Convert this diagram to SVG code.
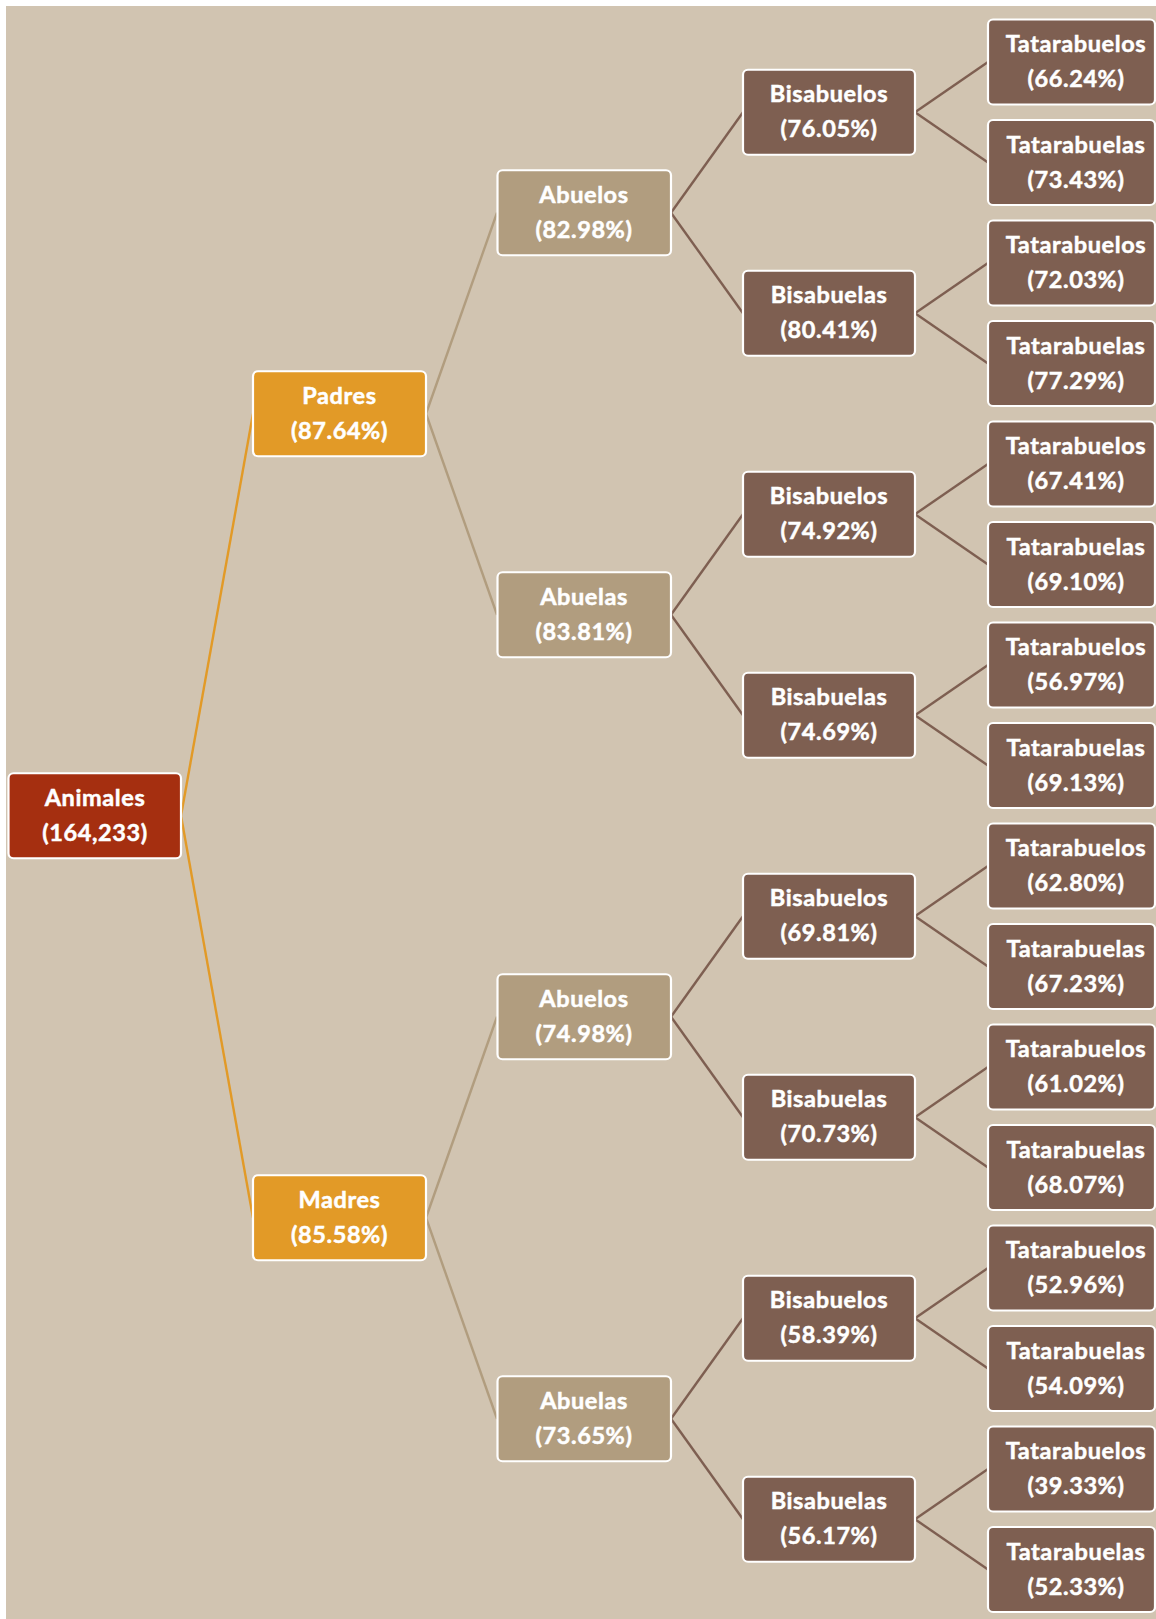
<svg xmlns="http://www.w3.org/2000/svg" width="1156" height="1619" viewBox="0 0 1156 1619">
<style>
.n rect{stroke:#fff;stroke-width:2.2}
.n text{font-family:"Lato","Open Sans","Liberation Sans",sans-serif;font-weight:700;font-size:23.5px;fill:#fff;stroke:#fff;stroke-width:0.5;letter-spacing:0.6px;text-anchor:middle}
.r{fill:#A52F10}.o{fill:#E29A27}.t{fill:#B19D7F}.b{fill:#7E5F51}
.c line{stroke-width:2.4;fill:none}
.lo{stroke:#E29A27}.lt{stroke:#B19D7F}.lb{stroke:#7E5F51}
</style>
<rect x="0" y="0" width="1156" height="1619" fill="#fff"/>
<rect x="6" y="6" width="1150" height="1613" fill="#D1C4B1"/>
<g id="connectors" class="c">
<line class="lo" x1="181" y1="815.75" x2="253" y2="413.75"/>
<line class="lo" x1="181" y1="815.75" x2="253" y2="1217.75"/>
<line class="lt" x1="426" y1="413.75" x2="497" y2="212.75"/>
<line class="lt" x1="426" y1="413.75" x2="497" y2="614.75"/>
<line class="lt" x1="426" y1="1217.75" x2="497" y2="1016.75"/>
<line class="lt" x1="426" y1="1217.75" x2="497" y2="1418.75"/>
<line class="lb" x1="671" y1="212.75" x2="743" y2="112.25"/>
<line class="lb" x1="671" y1="212.75" x2="743" y2="313.25"/>
<line class="lb" x1="671" y1="614.75" x2="743" y2="514.25"/>
<line class="lb" x1="671" y1="614.75" x2="743" y2="715.25"/>
<line class="lb" x1="671" y1="1016.75" x2="743" y2="916.25"/>
<line class="lb" x1="671" y1="1016.75" x2="743" y2="1117.25"/>
<line class="lb" x1="671" y1="1418.75" x2="743" y2="1318.25"/>
<line class="lb" x1="671" y1="1418.75" x2="743" y2="1519.25"/>
<line class="lb" x1="915" y1="112.25" x2="988" y2="62"/>
<line class="lb" x1="915" y1="112.25" x2="988" y2="162.5"/>
<line class="lb" x1="915" y1="313.25" x2="988" y2="263"/>
<line class="lb" x1="915" y1="313.25" x2="988" y2="363.5"/>
<line class="lb" x1="915" y1="514.25" x2="988" y2="464"/>
<line class="lb" x1="915" y1="514.25" x2="988" y2="564.5"/>
<line class="lb" x1="915" y1="715.25" x2="988" y2="665"/>
<line class="lb" x1="915" y1="715.25" x2="988" y2="765.5"/>
<line class="lb" x1="915" y1="916.25" x2="988" y2="866"/>
<line class="lb" x1="915" y1="916.25" x2="988" y2="966.5"/>
<line class="lb" x1="915" y1="1117.25" x2="988" y2="1067"/>
<line class="lb" x1="915" y1="1117.25" x2="988" y2="1167.5"/>
<line class="lb" x1="915" y1="1318.25" x2="988" y2="1268"/>
<line class="lb" x1="915" y1="1318.25" x2="988" y2="1368.5"/>
<line class="lb" x1="915" y1="1519.25" x2="988" y2="1469"/>
<line class="lb" x1="915" y1="1519.25" x2="988" y2="1569.5"/>
</g>
<g id="animales" class="n"><rect class="r" x="8.5" y="773.25" width="172.5" height="85" rx="5"/><text x="95" y="805.75">Animales</text><text x="95" y="840.75">(164,233)</text></g>
<g id="padres" class="n"><rect class="o" x="253" y="371.25" width="173" height="85" rx="5"/><text x="339.5" y="403.75">Padres</text><text x="339.5" y="438.75">(87.64%)</text></g>
<g id="madres" class="n"><rect class="o" x="253" y="1175.25" width="173" height="85" rx="5"/><text x="339.5" y="1207.75">Madres</text><text x="339.5" y="1242.75">(85.58%)</text></g>
<g id="abuelos1" class="n"><rect class="t" x="497.5" y="170.25" width="173.5" height="85" rx="5"/><text x="584" y="202.75">Abuelos</text><text x="584" y="237.75">(82.98%)</text></g>
<g id="abuelas1" class="n"><rect class="t" x="497.5" y="572.25" width="173.5" height="85" rx="5"/><text x="584" y="604.75">Abuelas</text><text x="584" y="639.75">(83.81%)</text></g>
<g id="abuelos2" class="n"><rect class="t" x="497.5" y="974.25" width="173.5" height="85" rx="5"/><text x="584" y="1006.75">Abuelos</text><text x="584" y="1041.75">(74.98%)</text></g>
<g id="abuelas2" class="n"><rect class="t" x="497.5" y="1376.25" width="173.5" height="85" rx="5"/><text x="584" y="1408.75">Abuelas</text><text x="584" y="1443.75">(73.65%)</text></g>
<g id="bis1" class="n"><rect class="b" x="743" y="69.75" width="172" height="85" rx="5"/><text x="829" y="102.25">Bisabuelos</text><text x="829" y="137.25">(76.05%)</text></g>
<g id="bis2" class="n"><rect class="b" x="743" y="270.75" width="172" height="85" rx="5"/><text x="829" y="303.25">Bisabuelas</text><text x="829" y="338.25">(80.41%)</text></g>
<g id="bis3" class="n"><rect class="b" x="743" y="471.75" width="172" height="85" rx="5"/><text x="829" y="504.25">Bisabuelos</text><text x="829" y="539.25">(74.92%)</text></g>
<g id="bis4" class="n"><rect class="b" x="743" y="672.75" width="172" height="85" rx="5"/><text x="829" y="705.25">Bisabuelas</text><text x="829" y="740.25">(74.69%)</text></g>
<g id="bis5" class="n"><rect class="b" x="743" y="873.75" width="172" height="85" rx="5"/><text x="829" y="906.25">Bisabuelos</text><text x="829" y="941.25">(69.81%)</text></g>
<g id="bis6" class="n"><rect class="b" x="743" y="1074.75" width="172" height="85" rx="5"/><text x="829" y="1107.25">Bisabuelas</text><text x="829" y="1142.25">(70.73%)</text></g>
<g id="bis7" class="n"><rect class="b" x="743" y="1275.75" width="172" height="85" rx="5"/><text x="829" y="1308.25">Bisabuelos</text><text x="829" y="1343.25">(58.39%)</text></g>
<g id="bis8" class="n"><rect class="b" x="743" y="1476.75" width="172" height="85" rx="5"/><text x="829" y="1509.25">Bisabuelas</text><text x="829" y="1544.25">(56.17%)</text></g>
<g id="tata1" class="n"><rect class="b" x="988" y="19.5" width="167" height="85" rx="5"/><text x="1076" y="52">Tatarabuelos</text><text x="1076" y="87">(66.24%)</text></g>
<g id="tata2" class="n"><rect class="b" x="988" y="120" width="167" height="85" rx="5"/><text x="1076" y="152.5">Tatarabuelas</text><text x="1076" y="187.5">(73.43%)</text></g>
<g id="tata3" class="n"><rect class="b" x="988" y="220.5" width="167" height="85" rx="5"/><text x="1076" y="253">Tatarabuelos</text><text x="1076" y="288">(72.03%)</text></g>
<g id="tata4" class="n"><rect class="b" x="988" y="321" width="167" height="85" rx="5"/><text x="1076" y="353.5">Tatarabuelas</text><text x="1076" y="388.5">(77.29%)</text></g>
<g id="tata5" class="n"><rect class="b" x="988" y="421.5" width="167" height="85" rx="5"/><text x="1076" y="454">Tatarabuelos</text><text x="1076" y="489">(67.41%)</text></g>
<g id="tata6" class="n"><rect class="b" x="988" y="522" width="167" height="85" rx="5"/><text x="1076" y="554.5">Tatarabuelas</text><text x="1076" y="589.5">(69.10%)</text></g>
<g id="tata7" class="n"><rect class="b" x="988" y="622.5" width="167" height="85" rx="5"/><text x="1076" y="655">Tatarabuelos</text><text x="1076" y="690">(56.97%)</text></g>
<g id="tata8" class="n"><rect class="b" x="988" y="723" width="167" height="85" rx="5"/><text x="1076" y="755.5">Tatarabuelas</text><text x="1076" y="790.5">(69.13%)</text></g>
<g id="tata9" class="n"><rect class="b" x="988" y="823.5" width="167" height="85" rx="5"/><text x="1076" y="856">Tatarabuelos</text><text x="1076" y="891">(62.80%)</text></g>
<g id="tata10" class="n"><rect class="b" x="988" y="924" width="167" height="85" rx="5"/><text x="1076" y="956.5">Tatarabuelas</text><text x="1076" y="991.5">(67.23%)</text></g>
<g id="tata11" class="n"><rect class="b" x="988" y="1024.5" width="167" height="85" rx="5"/><text x="1076" y="1057">Tatarabuelos</text><text x="1076" y="1092">(61.02%)</text></g>
<g id="tata12" class="n"><rect class="b" x="988" y="1125" width="167" height="85" rx="5"/><text x="1076" y="1157.5">Tatarabuelas</text><text x="1076" y="1192.5">(68.07%)</text></g>
<g id="tata13" class="n"><rect class="b" x="988" y="1225.5" width="167" height="85" rx="5"/><text x="1076" y="1258">Tatarabuelos</text><text x="1076" y="1293">(52.96%)</text></g>
<g id="tata14" class="n"><rect class="b" x="988" y="1326" width="167" height="85" rx="5"/><text x="1076" y="1358.5">Tatarabuelas</text><text x="1076" y="1393.5">(54.09%)</text></g>
<g id="tata15" class="n"><rect class="b" x="988" y="1426.5" width="167" height="85" rx="5"/><text x="1076" y="1459">Tatarabuelos</text><text x="1076" y="1494">(39.33%)</text></g>
<g id="tata16" class="n"><rect class="b" x="988" y="1527" width="167" height="85" rx="5"/><text x="1076" y="1559.5">Tatarabuelas</text><text x="1076" y="1594.5">(52.33%)</text></g>
</svg>
